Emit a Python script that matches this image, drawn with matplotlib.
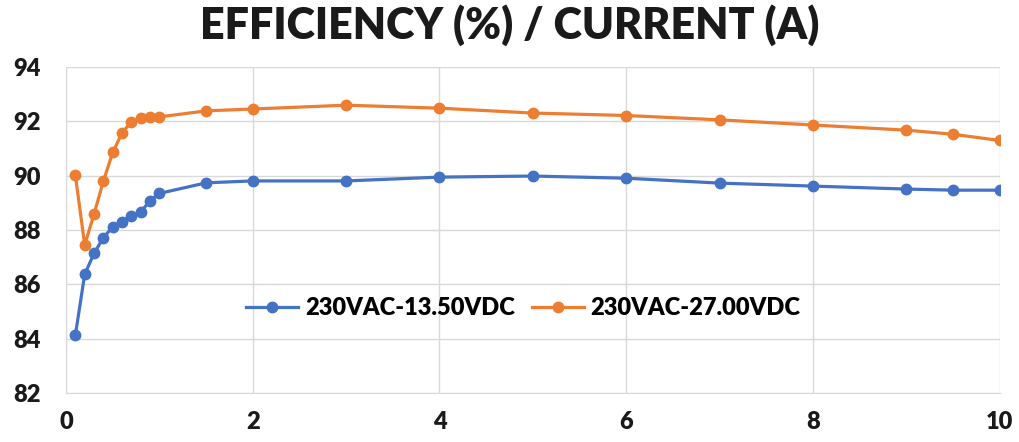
import matplotlib
matplotlib.use('Agg')
import matplotlib.pyplot as plt

current = [0.1, 0.2, 0.3, 0.4, 0.5, 0.6, 0.7, 0.8, 0.9, 1.0, 1.5, 2, 3, 4, 5, 6, 7, 8, 9, 9.5, 10]
eff_1350 = [84.13, 86.37, 87.14, 87.72, 88.12, 88.31, 88.53, 88.67, 89.08, 89.35, 89.74,
            89.81, 89.81, 89.95, 89.99, 89.91, 89.73, 89.62, 89.51, 89.47, 89.47]
eff_2700 = [90.02, 87.45, 88.59, 89.80, 90.86, 91.58, 91.99, 92.13, 92.17, 92.17, 92.39,
            92.46, 92.60, 92.49, 92.31, 92.22, 92.06, 91.87, 91.68, 91.53, 91.30]
labels = ['230VAC-13.50VDC', '230VAC-27.00VDC']
colors = ['#4472C4', '#ED7D31']

plt.rcParams['font.family'] = ['Lato', 'DejaVu Sans']
plt.rcParams['font.weight'] = 'heavy'

fig = plt.figure(figsize=(10.19, 4.42), dpi=100)
ax = fig.add_axes([0.0648, 0.111, 0.9162, 0.737])

for ys, lab, c in zip([eff_1350, eff_2700], labels, colors):
    ax.plot(current, ys, '-o', color=c, lw=2.3, ms=7.5, label=lab)

ax.set_xlim(0, 10)
ax.set_ylim(82, 94)
ax.set_xticks(range(0, 11, 2))
ax.set_yticks(range(82, 95, 2))
ax.grid(True, color='#d9d9d9', lw=1)
ax.set_axisbelow(True)
for s in ax.spines.values():
    s.set_visible(False)
ax.spines['left'].set_visible(True)
ax.spines['bottom'].set_visible(True)
ax.spines['left'].set_color('#d9d9d9')
ax.spines['bottom'].set_color('#d9d9d9')
ax.tick_params(length=0, labelsize=17, colors='#1a1a1a')
ax.tick_params(axis='x', pad=13)
ax.tick_params(axis='y', pad=18)
for t in ax.get_xticklabels() + ax.get_yticklabels():
    t.set_fontweight('heavy')

leg = ax.legend(loc='center', bbox_to_anchor=(0.49, 0.26), ncol=2, frameon=False,
                fontsize=17, handlelength=2.2, columnspacing=0.7, handletextpad=0.3)
for t in leg.get_texts():
    t.set_fontweight('heavy')

fig.suptitle('EFFICIENCY (%) / CURRENT (A)', fontsize=31, fontweight='heavy',
             color='#1a1a1a', y=0.99)

plt.savefig('out.png', dpi=100)
